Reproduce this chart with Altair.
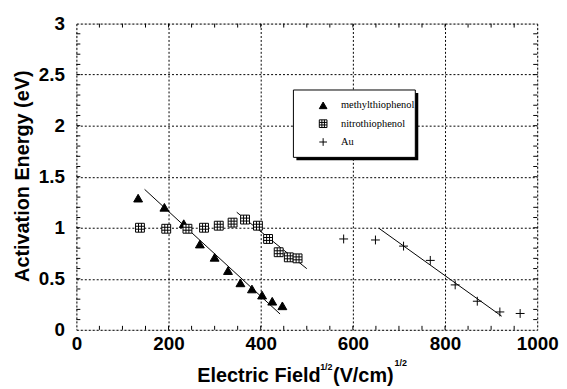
import altair as alt
import pandas as pd

# ---- data ----
methyl_x = [134, 191, 233, 268, 300, 329, 356, 381, 403, 425, 447]
methyl_y = [1.29, 1.20, 1.04, 0.84, 0.71, 0.58, 0.46, 0.40, 0.34, 0.28, 0.235]
nitro_x = [138, 195, 241, 277, 309, 339, 366, 394, 416, 439, 461, 480]
nitro_y = [1.00, 0.99, 0.99, 1.00, 1.02, 1.05, 1.08, 1.02, 0.89, 0.76, 0.71, 0.70]
au_x = [580, 649, 710, 768, 822, 870, 919, 963]
au_y = [0.89, 0.88, 0.82, 0.68, 0.44, 0.28, 0.175, 0.16]

methyl_fit_x = [148, 442]
methyl_fit_y = [1.376, 0.155]
nitro_fit_x = [348, 500]
nitro_fit_y = [1.152, 0.599]
au_fit_x = [657, 923]
au_fit_y = [0.993, 0.133]

series_names = ["methylthiophenol", "nitrothiophenol", "Au"]
x_major = [0, 200, 400, 600, 800, 1000]
y_major = [0, 0.5, 1, 1.5, 2, 2.5, 3]
x_minor = [v for v in range(50, 1000, 50)]
y_minor = [round(v * 0.1, 1) for v in range(1, 30)]

W, H = 465, 309

pts = pd.DataFrame(
    [{"x": x, "y": y, "s": series_names[0]} for x, y in zip(methyl_x, methyl_y)]
    + [{"x": x, "y": y, "s": series_names[1]} for x, y in zip(nitro_x, nitro_y)]
    + [{"x": x, "y": y, "s": series_names[2]} for x, y in zip(au_x, au_y)]
)
fits = pd.DataFrame(
    [{"x": x, "y": y, "g": "m"} for x, y in zip(methyl_fit_x, methyl_fit_y)]
    + [{"x": x, "y": y, "g": "n"} for x, y in zip(nitro_fit_x, nitro_fit_y)]
    + [{"x": x, "y": y, "g": "a"} for x, y in zip(au_fit_x, au_fit_y)]
)

xs = alt.Scale(domain=[0, 1000], nice=False, zero=False)
ys = alt.Scale(domain=[0, 3], nice=False, zero=False)

FONT = "Liberation Sans"

x_axis = alt.Axis(values=x_major, grid=True, gridColor="black", gridDash=[2, 2],
                  gridWidth=1, ticks=False, domain=False, labelFont=FONT,
                  labelFontSize=19, labelFontWeight="bold", labelColor="black",
                  labelPadding=5, title=None, labelFlush=False, format="d")
y_axis = alt.Axis(values=y_major, grid=True, gridColor="black", gridDash=[2, 2],
                  gridWidth=1, ticks=False, domain=False, labelFont=FONT,
                  labelFontSize=19, labelFontWeight="bold", labelColor="black",
                  labelPadding=12, title=None, format=".1~f", labelFlush=False)

# invisible base layer carrying the axes
base = alt.Chart(pd.DataFrame({"x": [0], "y": [0]})).mark_point(opacity=0).encode(
    x=alt.X("x:Q", scale=xs, axis=x_axis),
    y=alt.Y("y:Q", scale=ys, axis=y_axis),
)

lines = alt.Chart(fits).mark_line(color="black", strokeWidth=1).encode(
    x=alt.X("x:Q", scale=xs),
    y=alt.Y("y:Q", scale=ys),
    detail="g:N",
)

sq_path = "M-1,-1H1V1H-1Z M-0.33,-1V1 M0.33,-1V1 M-1,-0.33H1 M-1,0.33H1"
cross_path = "M-1,0H1M0,-1V1"
shapes = ["triangle-up", sq_path, cross_path]
fills = ["black", "white", "transparent"]

points = alt.Chart(pts).mark_point(stroke="black", strokeWidth=1, opacity=1,
                                   fillOpacity=1, size=80).encode(
    x=alt.X("x:Q", scale=xs),
    y=alt.Y("y:Q", scale=ys),
    shape=alt.Shape("s:N", scale=alt.Scale(domain=series_names, range=shapes),
                    legend=None),
    fill=alt.Fill("s:N", scale=alt.Scale(domain=series_names, range=fills),
                  legend=None),
)

# inward tick marks on all four sides
xt = pd.DataFrame({"v": x_minor})
yt = pd.DataFrame({"v": y_minor})
tick_b = alt.Chart(xt).mark_rule(color="black", strokeWidth=1).encode(
    x=alt.X("v:Q", scale=xs), y=alt.value(H), y2=alt.value(H - 4))
tick_t = alt.Chart(xt).mark_rule(color="black", strokeWidth=1).encode(
    x=alt.X("v:Q", scale=xs), y=alt.value(0), y2=alt.value(4))
tick_l = alt.Chart(yt).mark_rule(color="black", strokeWidth=1).encode(
    y=alt.Y("v:Q", scale=ys), x=alt.value(0), x2=alt.value(4))
tick_r = alt.Chart(yt).mark_rule(color="black", strokeWidth=1).encode(
    y=alt.Y("v:Q", scale=ys), x=alt.value(W), x2=alt.value(W - 4))

# manual legend: shadow, box, symbols, labels
one = pd.DataFrame({"a": [0]})
LX0, LX1, LY0, LY1 = 219, 342, 67, 135
shadow = alt.Chart(one).mark_rect(color="black").encode(
    x=alt.value(LX0 + 3), x2=alt.value(LX1 + 3),
    y=alt.value(LY0 + 3), y2=alt.value(LY1 + 3))
box = alt.Chart(one).mark_rect(fill="white", stroke="black", strokeWidth=1).encode(
    x=alt.value(LX0), x2=alt.value(LX1), y=alt.value(LY0), y2=alt.value(LY1))
leg_layers = []
for i, name in enumerate(series_names):
    yy = 82.5 + i * 18.5
    leg_layers.append(alt.Chart(one).mark_point(
        shape=shapes[i], fill=fills[i], stroke="black", strokeWidth=1,
        opacity=1, fillOpacity=1, size=60).encode(
        x=alt.value(249), y=alt.value(yy)))
    leg_layers.append(alt.Chart(pd.DataFrame({"t": [name]})).mark_text(
        font="Liberation Serif", fontSize=10.5, color="black", align="left",
        baseline="middle").encode(text="t:N", x=alt.value(267), y=alt.value(yy)))

# titles
def txt(t, x, y, size, angle=0, align="left", baseline="alphabetic"):
    return alt.Chart(pd.DataFrame({"t": [t]})).mark_text(
        font=FONT, fontSize=size, fontWeight="bold", color="black",
        align=align, baseline=baseline, angle=angle).encode(
        text="t:N", x=alt.value(x), y=alt.value(y))

t1 = txt("Electric Field", 122, 362, 20)
t2 = txt("1/2", 246, 350, 9)
t3 = txt("(V/cm)", 259, 362, 20)
t4 = txt("1/2", 321, 346, 9)
ty = txt("Activation Energy (eV)", -54, 154, 20, angle=270, align="center",
         baseline="middle")

chart = alt.layer(base, tick_b, tick_t, tick_l, tick_r, lines, points, shadow,
                  box, *leg_layers, t1, t2, t3, t4, ty).properties(
    width=W, height=H,
    autosize=alt.AutoSizeParams(type="none"),
    padding={"left": 69, "top": 14, "right": 22, "bottom": 58},
).configure_view(stroke="black", strokeWidth=1).configure(background="white")

chart.save("out.html", embed_options={"renderer": "svg", "actions": False})
